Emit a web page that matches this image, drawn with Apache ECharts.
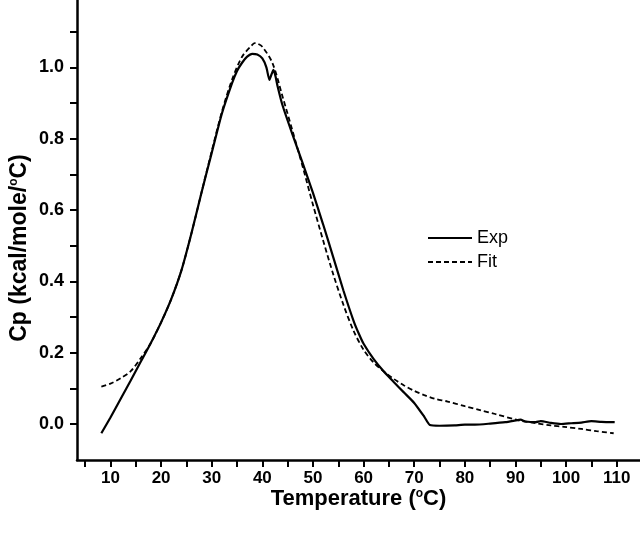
<!DOCTYPE html>
<html>
<head>
<meta charset="utf-8">
<script src="https://cdn.jsdelivr.net/npm/echarts@6/dist/echarts.min.js"></script>
<style>
  html, body { margin: 0; padding: 0; background: #fff; }
  #chart { width: 640px; height: 533px; }
</style>
</head>
<body>
<div id="chart"></div>
<script>
// Exp: measured Cp curve (solid)
const expT = [8.2, 10, 12, 14, 16, 18, 20, 22, 24, 26, 28, 30, 32, 34, 35, 36, 37, 38, 39, 40, 40.8, 41.4, 41.8, 42.2, 42.6, 43, 44, 46, 48, 50, 52, 54, 56, 58, 59, 60, 62, 64, 66, 68, 70, 72, 73.1, 75, 78, 80, 82, 85, 88, 90.4, 91, 92, 94, 95, 97, 99, 101, 103, 105, 107, 109.6];
const expCp = [-0.026, 0.018, 0.07, 0.122, 0.175, 0.228, 0.285, 0.35, 0.43, 0.535, 0.65, 0.76, 0.87, 0.955, 0.99, 1.013, 1.03, 1.038, 1.036, 1.025, 1.0, 0.965, 0.98, 0.993, 0.975, 0.948, 0.893, 0.81, 0.73, 0.648, 0.56, 0.468, 0.375, 0.29, 0.255, 0.225, 0.182, 0.147, 0.117, 0.088, 0.059, 0.02, -0.003, -0.005, -0.004, -0.002, -0.002, 0.001, 0.005, 0.011, 0.012, 0.007, 0.005, 0.008, 0.003, 0.0, 0.002, 0.004, 0.008, 0.006, 0.005];

// Fit: model curve (dashed)
const fitT = [8.2, 10, 12, 14, 16, 18, 20, 22, 24, 26, 28, 30, 32, 34, 36, 38, 38.5, 39, 40, 42, 44, 46, 48, 50, 52, 54, 56, 58, 60, 62, 64, 66, 68, 70, 72, 74, 76.6, 80, 83, 86, 90.4, 94, 97, 99.6, 103, 106, 109.4];
const fitCp = [0.105, 0.113, 0.128, 0.148, 0.185, 0.228, 0.285, 0.35, 0.43, 0.535, 0.65, 0.765, 0.875, 0.965, 1.03, 1.063, 1.068, 1.067, 1.058, 1.012, 0.918, 0.82, 0.72, 0.615, 0.515, 0.42, 0.335, 0.262, 0.208, 0.172, 0.147, 0.126, 0.108, 0.093, 0.081, 0.071, 0.063, 0.05, 0.039, 0.028, 0.011, 0.002, -0.004, -0.008, -0.014, -0.02, -0.026];

const xTicks = [5, 10, 15, 20, 25, 30, 35, 40, 45, 50, 55, 60, 65, 70, 75, 80, 85, 90, 95, 100, 105, 110];
const xLabels = [10, 20, 30, 40, 50, 60, 70, 80, 90, 100, 110];
const yTicks = [0, 0.1, 0.2, 0.3, 0.4, 0.5, 0.6, 0.7, 0.8, 0.9, 1.0, 1.1];
const yLabels = [0, 0.2, 0.4, 0.6, 0.8, 1.0];

const zip = (xs, ys) => xs.map((x, i) => [x, ys[i]]);

const chart = echarts.init(document.getElementById("chart"));

const axisFont = "Liberation Sans, Arial, sans-serif";
const supStyle = { fontSize: 12, fontWeight: "bold", fontFamily: axisFont, color: "#000", verticalAlign: "top", padding: [0, 0, 10, 0] };

chart.setOption({
  animation: false,
  backgroundColor: "#fff",
  grid: { left: 73, right: 0, top: 0, bottom: 73 },
  legend: {
    orient: "vertical", left: 427, top: 229, padding: 0,
    itemWidth: 44, itemHeight: 14, itemGap: 6,
    itemStyle: { opacity: 0 },
    textStyle: { fontSize: 18, color: "#000", fontFamily: axisFont },
    data: ["Exp", "Fit"]
  },
  xAxis: {
    type: "value", min: 3.39, max: 114.6,
    name: "Temperature ({sup|o}C)", nameLocation: "middle", nameGap: 28, nameMoveOverlap: false,
    nameTextStyle: { fontSize: 22, fontWeight: "bold", color: "#000", fontFamily: axisFont, rich: { sup: supStyle } },
    axisLine: { onZero: false, lineStyle: { color: "#000", width: 2.5 } },
    axisTick: { customValues: xTicks, length: 7, lineStyle: { color: "#000", width: 2 } },
    axisLabel: { customValues: xLabels, fontSize: 17, fontWeight: "bold", color: "#000", fontFamily: axisFont, margin: 10 },
    splitLine: { show: false }
  },
  yAxis: {
    type: "value", min: -0.101, max: 1.189,
    name: "Cp (kcal/mole/{sup|o}C)", nameLocation: "middle", nameGap: 46, nameMoveOverlap: false,
    nameTextStyle: { fontSize: 23, fontWeight: "bold", color: "#000", fontFamily: axisFont, padding: [0, 36, 0, 0], rich: { sup: supStyle } },
    axisLine: { onZero: false, lineStyle: { color: "#000", width: 2.5 } },
    axisTick: { customValues: yTicks, length: 7, lineStyle: { color: "#000", width: 2 } },
    axisLabel: { customValues: yLabels, fontSize: 18, fontWeight: "bold", color: "#000", fontFamily: axisFont, margin: 13,
      formatter: v => v.toFixed(1) },
    splitLine: { show: false }
  },
  series: [
    { name: "Exp", type: "line", data: zip(expT, expCp), symbol: "none", smooth: 0.2,
      lineStyle: { color: "#000", width: 2.2 }, itemStyle: { color: "#000" } },
    { name: "Fit", type: "line", data: zip(fitT, fitCp), symbol: "none", smooth: 0.3,
      lineStyle: { color: "#000", width: 1.8, type: [5, 3] }, itemStyle: { color: "#000" } }
  ]
});

window.addEventListener("resize", () => chart.resize());
</script>
</body>
</html>
